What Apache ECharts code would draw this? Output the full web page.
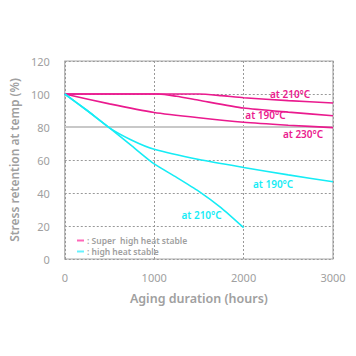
<!DOCTYPE html>
<html><head><meta charset="utf-8">
<script src="https://cdn.jsdelivr.net/npm/echarts@6/dist/echarts.min.js"></script>
<style>html,body{margin:0;padding:0;background:#fff}#c{width:356px;height:356px}</style>
</head><body><div id="c"></div>
<script>
// Data
const xTicks = [0, 1000, 2000, 3000];
const yTicks = [0, 20, 40, 60, 80, 100, 120];
const superAt210 = [[0,100],[800,100],[1500,100],[1750,99],[2000,97.7],[2500,96],[3000,94.5]];
const superAt190 = [[0,100],[600,100],[1050,100],[1250,98.6],[1500,96.2],[2000,91.5],[2500,89],[3000,86.8]];
const superAt230 = [[0,100],[500,94],[1000,88.8],[1500,85.6],[2000,82.9],[2500,81.1],[3000,79.6]];
const highAt190 = [[0,100],[250,90],[500,79.5],[750,72],[1000,66.5],[1500,60.3],[2000,55.5],[2500,51],[3000,46.8]];
const highAt210 = [[0,100],[250,90],[500,79.5],[750,68.5],[1000,57.6],[1250,49.5],[1500,41],[1750,31],[2000,19]];
const legendNames = ['Super  high heat stable', 'high heat stable'];
const curveLabels = [
  {text:'at 210°C', x:2520, y:100.2, group:0},
  {text:'at 190°C', x:2245, y:87.3, group:0},
  {text:'at 230°C', x:2665, y:75.8, group:0},
  {text:'at 190°C', x:2330, y:45.4, group:1},
  {text:'at 210°C', x:1530, y:26.8, group:1}
];

const MAG = '#ea1a8e', CYA = '#16ecf5';
const FONT = '"Noto Sans", sans-serif';
const GRAY = '#a0a0a0';

function lineSeries(name, data, color, extra) {
  return Object.assign({
    type:'line', name, data, smooth:0.2, symbol:'none',
    lineStyle:{color, width:1.6}, itemStyle:{color}, z:3
  }, extra||{});
}
function labelPoints(group, color) {
  return curveLabels.filter(l=>l.group===group).map(l=>({
    coord:[l.x,l.y], symbol:'circle', symbolSize:1, itemStyle:{color:'rgba(0,0,0,0)'},
    label:{show:true, formatter:l.text, color, fontSize:10, fontWeight:600, fontFamily:FONT, position:'inside'}
  }));
}

const chart = echarts.init(document.getElementById('c'), null, {renderer:'svg'});
chart.setOption({
  animation:false,
  grid:{left:62, right:23, top:61, bottom:97, show:true, borderColor:'#aaaaaa', borderWidth:1.2},
  legend:{
    left:72, top:231, orient:'vertical', itemGap:2, itemWidth:7, itemHeight:2,
    icon:'rect', selectedMode:false,
    formatter: n => ': ' + n,
    textStyle:{color:GRAY, fontSize:8.5, lineHeight:9, fontWeight:600, fontFamily:FONT, padding:[0,0,0,-2]},
    data:[{name:legendNames[0], itemStyle:{color:'#ff66b8'}}, {name:legendNames[1], itemStyle:{color:'#66f2ff'}}]
  },
  xAxis:{
    type:'value', min:xTicks[0], max:xTicks[xTicks.length-1], interval:1000,
    name:'Aging duration (hours)', nameLocation:'middle', nameGap:33,
    nameTextStyle:{color:GRAY, fontSize:12.5, fontWeight:600, fontFamily:FONT},
    axisLine:{show:false}, axisTick:{show:false},
    axisLabel:{color:GRAY, fontSize:11, fontFamily:FONT, margin:13, formatter: v => String(v)},
    splitLine:{show:true, lineStyle:{color:'#999', type:[2,2], width:1}}
  },
  yAxis:{
    type:'value', min:yTicks[0], max:yTicks[yTicks.length-1], interval:20,
    name:'Stress retention at temp (%)', nameLocation:'middle', nameGap:31,
    nameTextStyle:{color:GRAY, fontSize:12, fontWeight:600, fontFamily:FONT},
    axisLine:{show:false}, axisTick:{show:false},
    axisLabel:{color:GRAY, fontSize:11, fontFamily:FONT, margin:15, formatter: v => String(v)},
    splitLine:{show:true, lineStyle:{color:'#999', type:[2,2], width:1}}
  },
  series:[
    lineSeries(legendNames[0], superAt210, MAG, {
      markLine:{silent:true, symbol:'none', label:{show:false},
        lineStyle:{color:'#c8c8c8', type:'solid', width:2.2}, data:[{yAxis:80}], z:1},
      markPoint:{data:labelPoints(0, MAG)}
    }),
    lineSeries(legendNames[0], superAt190, MAG),
    lineSeries(legendNames[0], superAt230, MAG),
    lineSeries(legendNames[1], highAt190, CYA, {markPoint:{data:labelPoints(1, CYA)}}),
    lineSeries(legendNames[1], highAt210, CYA)
  ]
});
</script></body></html>
